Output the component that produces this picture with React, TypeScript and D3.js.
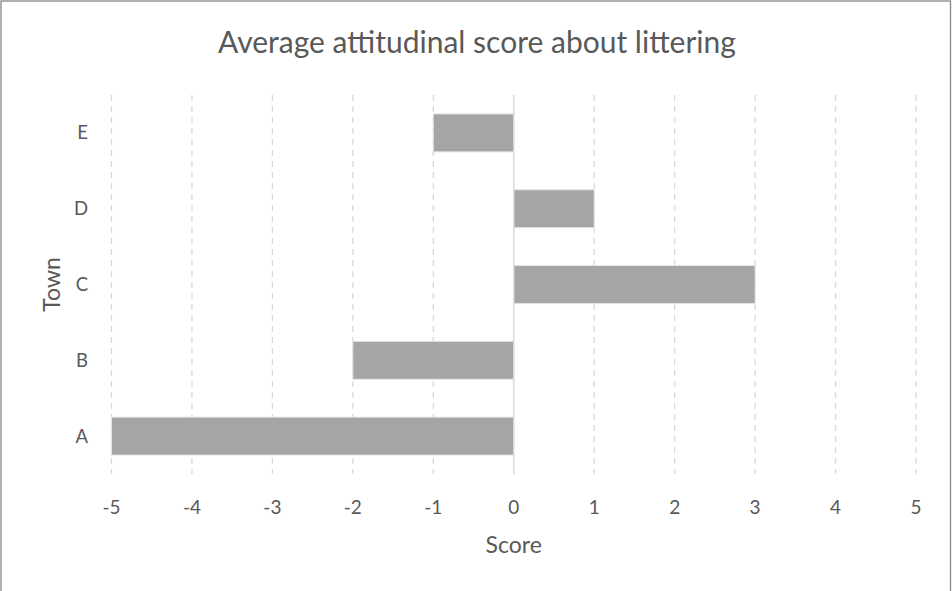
import { useMemo } from "react";
import * as d3 from "d3";

const WIDTH = 952;
const HEIGHT = 591;
const MARGIN = { top: 95, right: 36, bottom: 117, left: 111.5 };

const towns = ["A", "B", "C", "D", "E"];
const scores = [-5, -2, 3, 1, -1];
const xTicks = [-5, -4, -3, -2, -1, 0, 1, 2, 3, 4, 5];

const TITLE = "Average attitudinal score about littering";
const FONT = "Lato, 'Open Sans', sans-serif";
const TEXT_COLOR = "#595959";

export default function App() {
  const boundsWidth = WIDTH - MARGIN.left - MARGIN.right;
  const boundsHeight = HEIGHT - MARGIN.top - MARGIN.bottom;

  const xScale = useMemo(
    () => d3.scaleLinear().domain([-5, 5]).range([0, boundsWidth]),
    [boundsWidth]
  );

  const yScale = useMemo(
    () =>
      d3
        .scaleBand<string>()
        .domain([...towns].reverse())
        .range([0, boundsHeight])
        .paddingInner(0.5)
        .paddingOuter(0.25),
    [boundsHeight]
  );

  const data = towns.map((t, i) => ({ town: t, score: scores[i] }));

  return (
    <svg
      width={WIDTH}
      height={HEIGHT}
      style={{ position: "absolute", left: 0, top: 0, background: "#fff" }}
    >
      <rect x={1} y={1} width={949.5} height={620} fill="#fff" stroke="#878787" strokeWidth={1.3} />
      <text
        x={WIDTH / 2 + 1}
        y={53}
        textAnchor="middle"
        fontFamily={FONT}
        fontSize={30}
        fill={TEXT_COLOR}
      >
        {TITLE}
      </text>
      <g transform={`translate(${MARGIN.left},${MARGIN.top})`}>
        {/* vertical gridlines */}
        {xTicks
          .filter((t) => t !== 0)
          .map((t) => (
            <line
              key={t}
              x1={xScale(t)}
              x2={xScale(t)}
              y1={0}
              y2={boundsHeight}
              stroke="#d9d9d9"
              strokeWidth={1.3}
              strokeDasharray="6,5"
            />
          ))}
        {data.map((d) => {
          const x0 = xScale(Math.min(0, d.score));
          const x1 = xScale(Math.max(0, d.score));
          return (
            <rect
              key={d.town}
              x={x0}
              y={yScale(d.town)}
              width={x1 - x0}
              height={yScale.bandwidth()}
              fill="#a5a5a5"
              stroke="#e3e3e3"
              strokeWidth={1}
            />
          );
        })}
        {/* zero axis */}
        <line
          x1={xScale(0)}
          x2={xScale(0)}
          y1={0}
          y2={boundsHeight}
          stroke="#d9d9d9"
          strokeWidth={1.5}
        />
        {/* x tick labels */}
        {xTicks.map((t) => (
          <text
            key={t}
            x={xScale(t)}
            y={boundsHeight + 40}
            textAnchor="middle"
            fontFamily={FONT}
            fontSize={19}
            fill={TEXT_COLOR}
          >
            {t}
          </text>
        ))}
        {/* y category labels */}
        {towns.map((t) => (
          <text
            key={t}
            x={-23.5}
            y={(yScale(t) ?? 0) + yScale.bandwidth() / 2}
            dy="0.35em"
            textAnchor="end"
            fontFamily={FONT}
            fontSize={18.5}
            fill={TEXT_COLOR}
          >
            {t}
          </text>
        ))}
        <text
          x={xScale(0)}
          y={boundsHeight + 79}
          textAnchor="middle"
          fontFamily={FONT}
          fontSize={23}
          fill={TEXT_COLOR}
        >
          Score
        </text>
        <text
          transform={`translate(${-52},${boundsHeight / 2}) rotate(-90)`}
          textAnchor="middle"
          fontFamily={FONT}
          fontSize={23}
          fill={TEXT_COLOR}
        >
          Town
        </text>
      </g>
    </svg>
  );
}
